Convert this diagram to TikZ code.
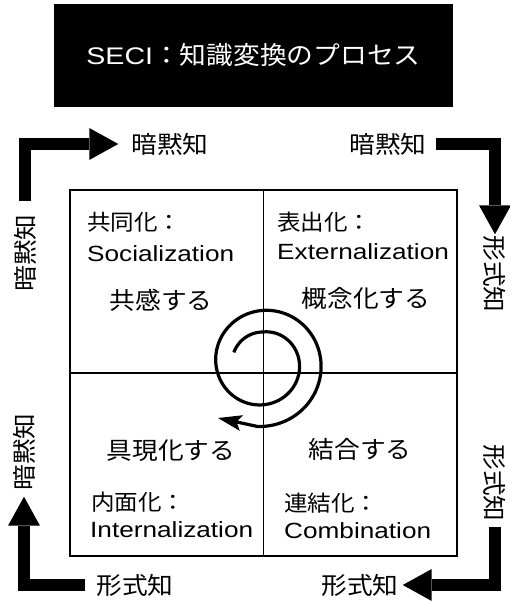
\documentclass[tikz,border=0pt]{standalone}
\usepackage{fontspec}
\setmainfont{Liberation Sans}[FakeStretch=1.19]
\newfontfamily\jp{Noto Sans CJK JP}[FakeStretch=1.07]
\usetikzlibrary{positioning, arrows.meta}

\begin{document}
\begin{tikzpicture}[x=1pt, y=-1pt,
  jpname/.style={font=\jp\fontsize{22}{26}\selectfont, inner sep=0, anchor=base west},
  enname/.style={font=\fontsize{22}{26}\selectfont, inner sep=0, anchor=base west},
  verb/.style={font=\jp\fontsize{24}{28}\selectfont, inner sep=0, anchor=base},
  side/.style={font=\jp\fontsize{24}{28}\selectfont, inner sep=0},
  flow/.style={line width=12pt, line join=miter,
    -{Triangle[length=29pt, width=32pt, line width=0pt]}}]

  \path[use as bounding box, fill=white] (0,0) rectangle (509,601);

  % title
  \node[fill=black, text=white, minimum width=399pt, minimum height=103pt] (title) at (253.5,55.5)
    {\fontsize{24}{28}\selectfont SECI{\jp\fontsize{25}{30}\selectfont ：知識変換のプロセス}};

  % the four modes
  \node[draw, line width=2pt, minimum width=387pt, minimum height=366pt, inner sep=0] (seci) at (263.5,373) {};
  \draw[line width=1.6pt] (seci.north) -- (seci.south);
  \draw[line width=1.6pt] (seci.west) -- (seci.east);

  \node[jpname] (socjp) at (87,231) {共同化：};
  \node[enname] (socen) at (87,261) {Socialization};
  \node[verb] (socdo) at (161,309) {共感する};

  \node[jpname] (extjp) at (277,231) {表出化：};
  \node[enname] (exten) at (277,259) {Externalization};
  \node[verb] (extdo) at (366,307) {概念化する};

  \node[verb] (intdo) at (171,459) {具現化する};
  \node[jpname] (intjp) at (91,510) {内面化：};
  \node[enname] (inten) at (90,537) {Internalization};

  \node[verb] (comdo) at (360,458) {結合する};
  \node[jpname] (comjp) at (284,511) {連結化：};
  \node[enname] (comen) at (284,538) {Combination};

  % spiral
  \draw[line width=3.2pt, -{Stealth[length=24pt, width=16pt, inset=5pt, line width=0pt]}]
    plot[domain=160:-455, samples=240, variable=\t]
      ({263+(31+0.06*max(0,90-\t))*cos(\t)}, {363-(31+0.06*max(0,90-\t))*sin(\t)})
    -- (218,418);

  % tacit / explicit around the square
  \node[side, rotate=90] (tacitL) at (25,253) {暗黙知};
  \node[side] (tacitT) at (170,144) {暗黙知};
  \node[side] (tacitR) at (388,144) {暗黙知};
  \node[side, rotate=-90] (explR) at (495,274) {形式知};
  \node[side, rotate=-90] (explRB) at (495,483) {形式知};
  \node[side] (explB) at (360,585) {形式知};
  \node[side] (explBL) at (135,585) {形式知};
  \node[side, rotate=90] (tacitLB) at (24,452) {暗黙知};

  \draw[flow, shorten <=13pt, shorten >=13pt] (tacitL.east) |- (tacitT.west);
  \draw[flow, shorten <=9pt, shorten >=1pt] (tacitR.east) -| (explR.west);
  \draw[flow, shorten <=5pt, shorten >=4pt] (explRB.east) |- (explB.east);
  \draw[flow, shorten <=11pt, shorten >=6pt] (explBL.west) -| (tacitLB.west);
\end{tikzpicture}
\end{document}
